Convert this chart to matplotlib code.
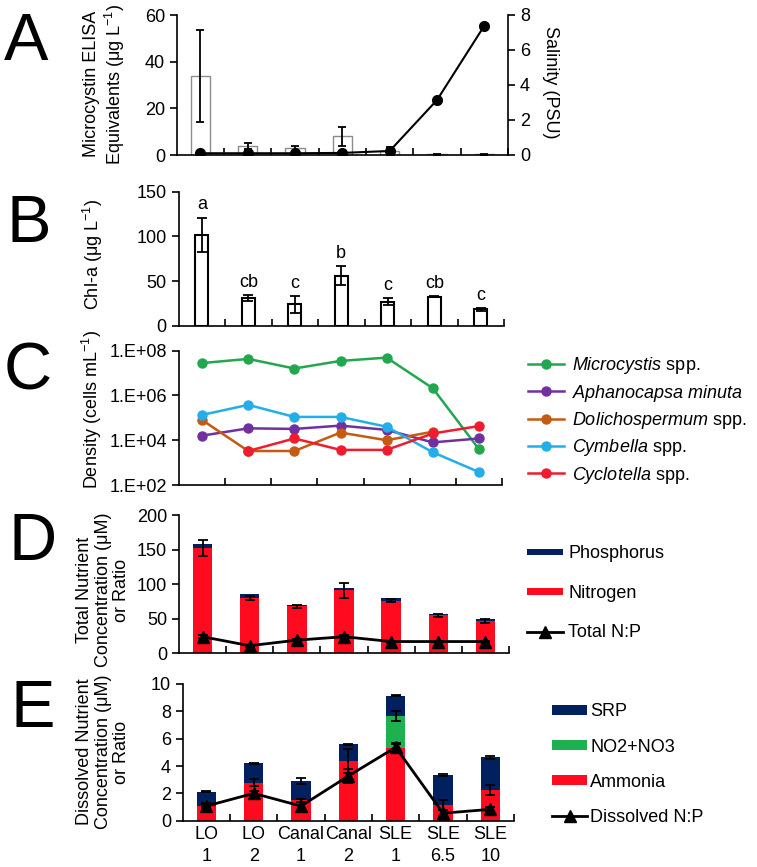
import numpy as np
import matplotlib
matplotlib.use("Agg")
import matplotlib.pyplot as plt

plt.rcParams['font.family'] = ['Liberation Sans', 'DejaVu Sans']
plt.rcParams['mathtext.fontset'] = 'custom'
plt.rcParams['mathtext.rm'] = 'Liberation Sans'
plt.rcParams['mathtext.it'] = 'Liberation Sans:italic'
plt.rcParams['mathtext.bf'] = 'Liberation Sans:bold'

# ---- data ----
sites = ["LO\n1", "LO\n2", "Canal\n1", "Canal\n2", "SLE\n1", "SLE\n6.5", "SLE\n10"]

# A: microcystin and salinity
mc = [33.9, 3.9, 2.9, 8.1, 1.8, 0.25, 0.25]
mc_err = [19.8, 1.4, 1.1, 4.1, 1.8, 0.05, 0.05]
salinity = [0.1, 0.1, 0.1, 0.12, 0.23, 3.14, 7.39]

# B: chlorophyll a
chla = [101.6, 31.6, 24.2, 56.2, 27.2, 32.7, 18.6]
chla_err = [19.5, 3.2, 9.6, 10.5, 4.3, 0.5, 1.5]
chla_letters = ["a", "cb", "c", "b", "c", "cb", "c"]

# C: cell densities
microcystis = [2.8e7, 4.3e7, 1.6e7, 3.5e7, 4.9e7, 2.1e6, 4.0e3]
aphanocapsa = [1.6e4, 3.4e4, 3.2e4, 4.5e4, 2.9e4, 8.0e3, 1.2e4]
dolichospermum = [8.0e4, 3.3e3, 3.3e3, 2.2e4, 1.0e4, 2.4e4, np.nan]
cymbella = [1.35e5, 3.8e5, 1.1e5, 1.1e5, 4.0e4, 2.9e3, 3.8e2]
cyclotella = [np.nan, 3.3e3, 1.2e4, 3.7e3, 3.7e3, 2.0e4, 4.3e4]

# D: total nutrients
tn = [152, 80, 68, 91, 76, 55, 47]
tp = [6, 6, 2.5, 3, 3.5, 2.5, 2.5]
tn_err = [11.5, 3, 2, 11, 2, 2, 2.5]
tnp = [24, 11, 19, 24, 17, 17, 17]
tnp_err = [2, 1.5, 1.5, 2, 1.5, 1, 1]

# E: dissolved nutrients
nh4 = [1.1, 2.78, 1.5, 4.37, 5.3, 1.15, 2.25]
nox = [0.0, 0.0, 0.0, 0.0, 2.36, 0.0, 0.0]
srp = [1.02, 1.42, 1.4, 1.22, 1.48, 2.19, 2.39]
diss_err = [0.05, 0.05, 0.2, 0.05, 0.05, 0.08, 0.12]
nh4_err = [0.1, 0.25, 0.1, 0.85, 0.3, 0.35, 0.35]
nox_err = [0, 0, 0, 0, 0.4, 0, 0]
dnp = [1.07, 2.0, 1.07, 3.27, 5.37, 0.55, 0.83]
dnp_err = [0.2, 0.2, 0.3, 0.5, 0.3, 0.2, 0.15]

W, H = 757, 867
FS = 13
RED = '#ff0a1e'
NAVY = '#002060'
GREEN = '#1fb04f'

fig = plt.figure(figsize=(W / 100, H / 100), dpi=100)


def px_rect(l, r, t, b):
    return [l / W, 1 - b / H, (r - l) / W, (b - t) / H]


def style(ax, xlabels=False):
    x = np.arange(len(sites))
    ax.set_xlim(-0.5, len(sites) - 0.5)
    for s in ['top', 'right']:
        ax.spines[s].set_visible(False)
    for s in ['left', 'bottom']:
        ax.spines[s].set_linewidth(1.2)
    ax.set_xticks(x)
    ax.set_xticks(np.arange(len(sites)) + 0.5, minor=True)
    ax.tick_params(axis='x', which='major', length=0, labelsize=FS, pad=4)
    ax.tick_params(axis='x', which='minor', direction='in', length=5, width=1.2)
    ax.tick_params(axis='y', direction='out', length=5, width=1.2, labelsize=FS)
    if xlabels:
        ax.set_xticklabels(sites, linespacing=1.35)
    else:
        ax.set_xticklabels([])
    return x


def eb(ax, x, y, err, cap=3.5):
    ax.errorbar(x, y, yerr=err, fmt='none', ecolor='black', elinewidth=1.3,
                capsize=cap, capthick=1.3, zorder=4)


def ylab(text, xc, yc, rot=90):
    fig.text(xc / W, 1 - yc / H, text, rotation=rot, ha='center', va='center',
             fontsize=FS, multialignment='center', linespacing=1.15)


def panel(letter, x, ybase):
    fig.text(x / W, 1 - ybase / H, letter, fontsize=48, ha='left', va='baseline')


# ---- A ----
axA = fig.add_axes(px_rect(176.7, 508, 15, 155))
x = style(axA)
axA.bar(x, mc, width=0.41, color='white', edgecolor='#8c8c8c', linewidth=1.0, zorder=2)
eb(axA, x, mc, mc_err, cap=3)
axA.set_ylim(0, 60)
axA.set_yticks([0, 20, 40, 60])
axA2 = axA.twinx()
axA2.set_xlim(-0.5, len(sites) - 0.5)
axA2.plot(x, salinity, color='black', lw=1.5, marker='o', ms=7, zorder=5)
axA2.set_ylim(0, 8)
axA2.set_yticks([0, 2, 4, 6, 8])
for s in ['top', 'left', 'bottom']:
    axA2.spines[s].set_visible(False)
axA2.spines['right'].set_linewidth(1.2)
axA2.tick_params(axis='y', direction='out', length=5, width=1.2, labelsize=FS)
ylab("Microcystin ELISA\nEquivalents (μg L$^{-1}$)", 105, 84)
ylab("Salinity (PSU)", 551, 82, rot=270)
panel("A", 4, 60)

# ---- B ----
axB = fig.add_axes(px_rect(178.5, 504, 191.7, 326))
x = style(axB)
axB.bar(x, chla, width=0.29, color='white', edgecolor='black', linewidth=1.5, zorder=2)
eb(axB, x, chla, chla_err)
for xi, v, e, t in zip(x, chla, chla_err, chla_letters):
    axB.annotate(t, (xi, v + e), xytext=(0, 3), textcoords='offset points',
                 ha='center', va='bottom', fontsize=FS)
axB.set_ylim(0, 150)
axB.set_yticks([0, 50, 100, 150])
ylab("Chl-a (μg L$^{-1}$)", 93, 254)
panel("B", 6, 241.7)

# ---- C ----
axC = fig.add_axes(px_rect(179, 502, 350.7, 485))
x = style(axC)
series = [
    (microcystis, '#22a74f', r"$\mathit{Microcystis}$ spp."),
    (aphanocapsa, '#7030a0', r"$\mathit{Aphanocapsa}$ $\mathit{minuta}$"),
    (dolichospermum, '#c55a11', r"$\mathit{Dolichospermum}$ spp."),
    (cymbella, '#22aee8', r"$\mathit{Cymbella}$ spp."),
    (cyclotella, '#ee1c2e', r"$\mathit{Cyclotella}$ spp."),
]
handles = []
for vals, col, lab in series:
    h, = axC.plot(x, vals, color=col, lw=1.8, marker='o', ms=6.5, label=lab)
    handles.append(h)
axC.set_yscale('log')
axC.set_ylim(1e2, 1e8)
axC.set_yticks([1e2, 1e4, 1e6, 1e8])
axC.set_yticklabels(["1.E+02", "1.E+04", "1.E+06", "1.E+08"])
axC.yaxis.set_minor_locator(matplotlib.ticker.NullLocator())
fig.legend(handles=handles, loc='upper left', bbox_to_anchor=(528 / W, 1 - 355.5 / H),
           frameon=False, borderaxespad=0, borderpad=0, handlelength=2.0,
           handletextpad=0.45, labelspacing=0.35, fontsize=FS)
ylab("Density (cells mL$^{-1}$)", 92, 410)
panel("C", 4, 389)

# ---- D ----
axD = fig.add_axes(px_rect(179, 509, 515, 653.3))
x = style(axD)
bn = axD.bar(x, tn, width=0.41, color=RED, label='Nitrogen', zorder=2)
bp = axD.bar(x, tp, width=0.41, bottom=tn, color=NAVY, label='Phosphorus', zorder=2)
eb(axD, x, tn, tn_err)
ln, = axD.plot(x, tnp, color='black', lw=2, marker='^', ms=8, label='Total N:P', zorder=5)
eb(axD, x, tnp, tnp_err)
axD.set_ylim(0, 200)
axD.set_yticks([0, 50, 100, 150, 200])
fig.legend(handles=[bp, bn, ln], loc='upper left', bbox_to_anchor=(527 / W, 1 - 545.5 / H),
           frameon=False, borderaxespad=0, borderpad=0, handlelength=2.0,
           handleheight=0.2, handletextpad=0.28, labelspacing=1.23, fontsize=FS)
ylab("Total Nutrient\nConcentration (μM)\nor Ratio", 103, 590)
panel("D", 8, 560)

# ---- E ----
axE = fig.add_axes(px_rect(182.7, 514, 684, 820.7))
x = style(axE, xlabels=True)
nox_bottom = np.array(nh4)
srp_bottom = nox_bottom + np.array(nox)
be_a = axE.bar(x, nh4, width=0.41, color=RED, label='Ammonia', zorder=2)
be_n = axE.bar(x, nox, width=0.41, bottom=nox_bottom, color=GREEN, label='NO2+NO3', zorder=2)
be_s = axE.bar(x, srp, width=0.41, bottom=srp_bottom, color=NAVY, label='SRP', zorder=2)
eb(axE, x, srp_bottom + np.array(srp), diss_err)
eb(axE, x, nh4, nh4_err)
nx = [i for i in x if nox_err[i] > 0]
eb(axE, nx, [srp_bottom[i] for i in nx], [nox_err[i] for i in nx])
le, = axE.plot(x, dnp, color='black', lw=2, marker='^', ms=8, label='Dissolved N:P', zorder=5)
eb(axE, x, dnp, dnp_err)
axE.set_ylim(0, 10)
axE.set_yticks([0, 2, 4, 6, 8, 10])
fig.legend(handles=[be_s, be_n, be_a, le], loc='upper left', bbox_to_anchor=(552 / W, 1 - 703.5 / H),
           frameon=False, borderaxespad=0, borderpad=0, handlelength=1.95,
           handleheight=0.45, handletextpad=0.17, labelspacing=1.0, fontsize=FS)
ylab("Dissolved Nutrient\nConcentration (μM)\nor Ratio", 103, 752)
panel("E", 10, 727)

fig.savefig("out.png", dpi=100)
